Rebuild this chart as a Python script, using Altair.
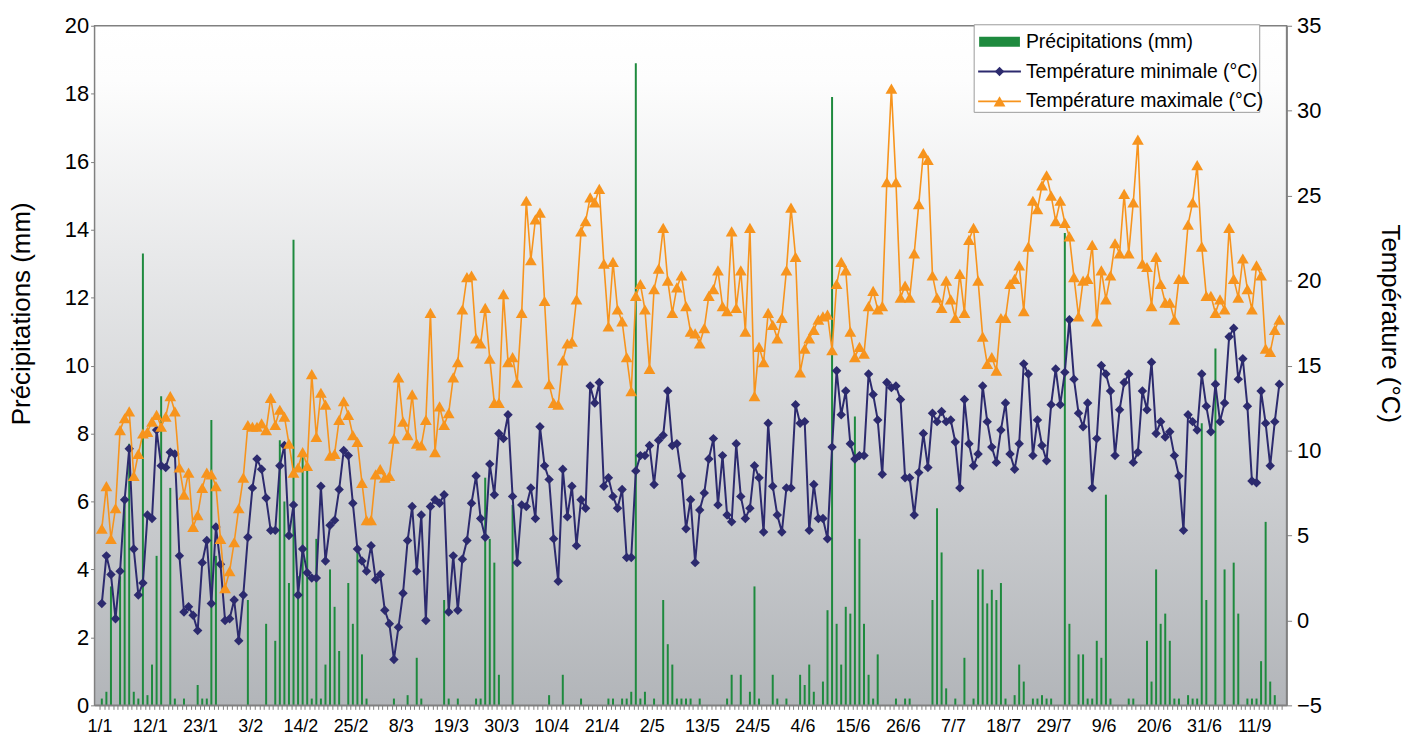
import altair as alt
import pandas as pd

# ---------------- data ----------------
date_labels = ["1/1", "12/1", "23/1", "3/2", "14/2", "25/2", "8/3", "19/3", "30/3",
               "10/4", "21/4", "2/5", "13/5", "24/5", "4/6", "15/6", "26/6", "7/7",
               "18/7", "29/7", "9/6", "20/6", "31/6", "11/9"]

precip = [
    0.2, 0.4, 3.5, 0, 3.8, 6.0, 7.7, 0.4, 0.2, 13.3, 0.3, 1.2, 4.4, 9.1, 0, 6.4, 0.2, 0, 0.2, 0,
    0, 0.6, 0.2, 0.2, 8.4, 4.4, 0, 0, 0, 0, 0, 0, 3.1,
    0, 0, 0, 2.4, 0, 1.9, 7.8, 6.0, 3.6, 13.7, 3.8, 7.3, 7.0, 0.2, 4.9, 0.2, 1.2, 4.0, 2.9, 1.6,
    0, 3.6, 2.4, 4.6, 1.5, 0.2, 0, 0, 0, 0, 0, 0.2, 0, 0, 0.3, 0, 1.4, 0.2, 0, 0, 0, 0, 3.1, 0.2, 0, 0.2,
    0, 0, 0, 0.2, 0.2, 6.7, 4.9, 4.2, 0.9, 0, 0, 5.9, 0, 0, 0, 0, 0, 0, 0, 0.3,
    0, 0, 0.9, 0, 0, 0, 0.2, 0, 0, 0, 0, 0, 0.2, 0.2, 0, 0.2, 0.2, 0.4, 18.9, 0.2,
    0.4, 0, 0.2, 0, 3.1, 1.8, 1.2, 0.2, 0.2, 0.2, 0.2, 0, 0.2, 0, 0, 0, 0, 0, 0.2, 0.9,
    0, 0.9, 0, 0.4, 3.5, 0.2, 0, 0, 0.9, 0.2, 0, 0.2, 0, 0, 0.9, 0.6, 1.2, 0.4, 0, 0.7,
    2.8, 17.9, 2.4, 1.2, 2.9, 2.7, 8.5, 4.9, 2.4, 0.9, 0.2, 1.5,
    0, 0, 0, 0.2, 0, 0.2, 0.2, 0, 0, 0, 0, 3.1, 5.8, 4.5, 0.5, 0, 0.2, 0, 1.4, 0,
    0.2, 4.0, 4.0, 3.0, 3.4, 3.1, 3.6, 0.2, 0, 0.3, 1.2, 0.7, 0, 0.2, 0.2, 0.3, 0.2, 0.2, 0, 0,
    13.9, 2.4, 0, 1.5, 1.5,
    0.2, 0.2, 1.9, 1.4, 6.2, 0.2, 0, 0, 0, 0.2, 0.2, 0, 0, 1.9, 0.7, 4.0, 2.4, 2.7, 1.9, 0.2,
    0.2, 0, 0.3, 0.2, 0.2, 8.3, 3.1, 0, 10.5, 0, 4.0, 0, 4.2, 2.7, 0, 0.2, 0.2, 0.2, 1.3, 5.4,
    0.7, 0.3, 0,
]

tmin = [
    1.0, 3.8, 2.7, 0.1, 2.9, 7.1, 10.1, 4.2, 1.5, 2.2, 6.2, 6.0, 11.2, 9.1, 9.0, 9.9, 9.8, 3.8, 0.5, 0.8,
    0.3, -0.6, 3.4, 4.7, 1.0, 5.5, 3.3, 0.0, 0.1, 1.2, -1.2, 1.5, 4.9,
    7.8, 9.5, 8.9, 7.2, 5.3, 5.3, 9.1, 10.3, 5.0, 6.8, 1.5, 4.2, 2.8, 2.5, 2.5, 7.9, 3.5, 5.6, 5.9, 7.7,
    10.0, 9.7, 6.9, 4.2, 3.5, 2.9, 4.4, 2.4, 2.7, 0.6, -0.2, -2.3, -0.4, 1.6, 4.7, 6.7, 2.9, 6.2, 0.0, 6.7,
    7.1, 6.9, 7.4, 0.5, 3.8, 0.6,
    3.6, 4.7, 6.9, 8.5, 6.0, 4.9, 9.2, 7.4, 11.0, 10.7, 12.1, 7.3, 3.4, 6.8, 6.7, 7.8, 6.0, 11.4, 9.1, 8.3,
    4.8, 2.3, 8.9, 6.1, 7.9, 4.4, 7.1, 6.6, 13.8, 12.8, 14.0, 7.9, 8.4, 7.3, 6.6, 7.7, 3.7, 3.7, 8.8, 9.7,
    9.7, 10.3, 8.0, 10.6, 10.9, 13.5, 10.3, 10.4, 8.5, 5.4, 7.1, 3.4, 6.5, 7.5, 9.5, 10.7, 6.8, 9.7, 6.2, 5.8,
    10.4, 7.3, 6.0, 6.6, 9.1, 8.4, 5.2, 11.6, 7.9, 6.2, 5.2, 7.8, 7.8, 12.7, 11.6, 11.7, 5.3, 8.0, 6.0, 6.0,
    4.8, 10.2, 14.7, 12.1, 13.5, 10.4, 9.5, 9.7, 9.7, 14.5, 13.3, 11.8,
    8.6, 14.0, 13.7, 13.8, 13.0, 8.4, 8.4, 6.2, 8.7, 11.0, 9.0, 12.2, 11.7, 12.3, 11.7, 11.8, 10.5, 7.8, 13.0, 10.4,
    9.1, 9.8, 13.8, 11.7, 10.2, 9.3, 11.2, 12.8, 9.8, 8.9, 10.4, 15.1, 14.5, 9.7, 11.8, 10.3, 9.4, 12.7, 14.8, 12.7,
    14.6, 17.7, 14.2, 12.2, 11.4,
    12.8, 7.8, 10.7, 15.0, 14.5, 13.5, 9.7, 12.4, 14.0, 14.5, 9.3, 9.9, 13.5, 12.4, 15.2, 11.0, 11.7, 10.8, 11.1, 9.7,
    8.5, 5.3, 12.1, 11.7, 11.2, 14.5, 12.6, 11.1, 13.9, 11.7, 12.8, 16.7, 17.2, 14.2, 15.4, 12.6, 8.2, 8.1, 13.5, 11.6,
    9.1, 11.7, 13.9,
]

tmax = [
    5.4, 7.9, 4.8, 6.6, 11.2, 11.9, 12.3, 8.5, 9.8, 11.0, 11.1, 11.7, 12.1, 11.4, 12.0, 13.2, 12.3, 9.0, 7.4, 8.7,
    5.5, 6.2, 7.8, 8.7, 8.6, 7.9, 4.8, 1.9, 2.9, 4.6, 6.6, 8.4, 11.5,
    11.4, 11.4, 11.6, 11.2, 13.1, 11.5, 12.4, 12.0, 10.4, 8.7, 9.0, 9.9, 9.1, 14.5, 10.8, 13.4, 12.7, 9.7, 9.8, 11.8,
    12.9, 12.1, 10.9, 10.5, 8.1, 5.9, 5.9, 8.6, 8.9, 8.4, 8.5, 10.7, 14.3, 11.7, 10.9, 13.3, 10.4, 10.3, 11.8, 18.1,
    9.9, 12.6, 11.5, 12.2, 14.3, 15.2,
    18.3, 20.2, 20.3, 16.6, 16.3, 18.4, 15.4, 12.8, 12.8, 19.2, 15.2, 15.5, 14.0, 18.1, 24.7, 21.2, 23.6, 24.0, 18.8, 13.9,
    12.8, 12.7, 15.3, 16.3, 16.4, 18.9, 22.9, 23.5, 24.9, 24.6, 25.4, 21.0, 17.3, 21.1, 18.3, 17.6, 15.5, 13.5, 19.1, 19.8,
    18.3, 14.8, 19.5, 20.7, 23.1, 20.0, 18.1, 19.6, 20.3, 18.5, 17.0, 16.9, 16.3, 17.2, 19.1, 19.5, 20.6, 18.5, 18.2, 22.9,
    18.4, 20.6, 17.0, 23.1, 13.2, 16.1, 15.2, 18.1, 17.4, 16.6, 17.8, 20.6, 24.3, 21.4, 14.6, 16.0, 16.6, 17.1, 17.7, 17.9,
    18.0, 15.9, 19.8, 21.1, 20.6, 17.0, 15.5, 16.1, 15.7, 18.5, 19.4, 18.3,
    18.5, 25.8, 31.3, 25.8, 19.0, 19.7, 19.0, 21.6, 24.5, 27.5, 27.1, 20.3, 19.0, 18.4, 20.0, 18.9, 17.8, 20.4, 18.1, 22.4,
    23.1, 20.0, 16.7, 15.1, 15.5, 14.7, 17.8, 17.8, 19.8, 20.1, 20.9, 18.2, 22.0, 24.7, 24.2, 25.6, 26.2, 25.0, 23.5, 24.7,
    23.4, 22.6, 20.2, 17.9, 20.0,
    20.1, 22.1, 17.6, 20.6, 18.9, 20.3, 22.2, 21.6, 25.1, 21.6, 24.6, 28.3, 21.0, 20.8, 18.5, 21.4, 19.8, 18.7, 18.7, 17.7,
    20.1, 20.1, 23.3, 24.6, 26.8, 22.0, 19.1, 19.1, 18.1, 18.9, 18.3, 23.1, 20.1, 19.0, 21.3, 19.5, 18.3, 20.9, 20.3, 16.0,
    15.8, 17.1, 17.7,
]

legend_labels = ["Précipitations (mm)", "Température minimale (°C)", "Température maximale (°C)"]

# ---------------- chart ----------------
n = len(precip)
df = pd.DataFrame({"day": list(range(n)), "precip": precip, "tmin": tmin, "tmax": tmax})
one = pd.DataFrame({"k": [0]})

W, H = 1198, 683
GREEN = "#1e8a3e"
NAVY = "#2c2a6e"
ORANGE = "#f7941d"
GREY = "#808080"
FONT = "Liberation Sans"

bounds = [i - 0.5 for i in range(n + 1)]
label_js = "[" + ",".join("'" + s + "'" for s in date_labels) + "]"
x_axis = alt.Axis(
    values=bounds,
    labelExpr="((datum.value + 0.5) % 11 == 0) ? " + label_js + "[(datum.value + 0.5) / 11] : ''",
    labelOffset=0, labelOverlap=False, labelFlush=False, labelFontSize=18, labelFont=FONT,
    labelColor="black", labelPadding=8, tickSize=4, tickColor=GREY, domainColor=GREY,
    domainWidth=1.5, grid=False, title=None,
)
x_enc = alt.X("day:Q", scale=alt.Scale(domain=[-0.5, n - 0.5], nice=False, zero=False), axis=x_axis)

bg = alt.Chart(one).mark_rect(
    fill=alt.Gradient(
        gradient="linear",
        stops=[alt.GradientStop(color="#ffffff", offset=0),
               alt.GradientStop(color="#fdfdfd", offset=0.08),
               alt.GradientStop(color="#b2b5b9", offset=1)],
        x1=0, x2=0, y1=0, y2=1,
    )
).encode(x=alt.value(0), x2=alt.value(W), y=alt.value(0), y2=alt.value(H))

bars = alt.Chart(df).mark_bar(size=2, color=GREEN).encode(
    x=x_enc,
    y=alt.Y("precip:Q", scale=alt.Scale(domain=[0, 20], nice=False),
            axis=alt.Axis(orient="left", values=list(range(0, 21, 2)), title="Précipitations (mm)",
                          titleFontSize=26, titleFont=FONT, titleFontWeight="normal", titleColor="black",
                          titleX=-73, titleY=289, titleAngle=270, titleBaseline="middle", titleAlign="center",
                          labelFontSize=22, labelFont=FONT, labelColor="black", tickSize=4, labelPadding=2,
                          tickColor=GREY, domainColor=GREY, domainWidth=1.5, grid=False)),
)

t_axis = alt.Axis(orient="right", values=list(range(-5, 36, 5)), title="Température (°C)",
                  titleFontSize=26, titleFont=FONT, titleFontWeight="normal", titleColor="black",
                  titleX=103, titleY=299, titleAngle=90, titleBaseline="middle", titleAlign="center",
                  labelFontSize=22, labelFont=FONT, labelColor="black", tickSize=5, labelPadding=5,
                  tickColor=GREY, domainColor=GREY, domainWidth=1.5, grid=False)
t_scale = alt.Scale(domain=[-5, 35], nice=False, zero=False)

tmin_line = alt.Chart(df).mark_line(
    color=NAVY, strokeWidth=2,
    point=alt.OverlayMarkDef(shape="diamond", size=90, filled=True, color=NAVY, opacity=1),
).encode(x=x_enc, y=alt.Y("tmin:Q", scale=t_scale, axis=t_axis))

tmax_line = alt.Chart(df).mark_line(
    color=ORANGE, strokeWidth=1.6,
    point=alt.OverlayMarkDef(shape="triangle-up", size=140, filled=True, color=ORANGE, opacity=1),
).encode(x=x_enc, y=alt.Y("tmax:Q", scale=t_scale, axis=t_axis))

temps = alt.layer(tmin_line, tmax_line)

frame = alt.Chart(one).mark_rect(filled=False, stroke=GREY, strokeWidth=1.5).encode(
    x=alt.value(0), x2=alt.value(W), y=alt.value(0), y2=alt.value(H))

# legend (decoration)
LX0, LX1, LY0, LY1 = 884, 1171, -1, 87
rows = [16, 46, 76]
leg_box = alt.Chart(one).mark_rect(fill="white", stroke="#9a9a9a", strokeWidth=1).encode(
    x=alt.value(LX0), x2=alt.value(LX1), y=alt.value(LY0), y2=alt.value(LY1))
leg_bar = alt.Chart(one).mark_rect(color=GREEN).encode(
    x=alt.value(889), x2=alt.value(930), y=alt.value(rows[0] - 5), y2=alt.value(rows[0] + 5))
leg_l1 = alt.Chart(one).mark_rule(color=NAVY, strokeWidth=2).encode(
    x=alt.value(888), x2=alt.value(931), y=alt.value(rows[1]))
leg_p1 = alt.Chart(one).mark_point(shape="diamond", size=90, filled=True, color=NAVY, opacity=1).encode(
    x=alt.value(909.5), y=alt.value(rows[1]))
leg_l2 = alt.Chart(one).mark_rule(color=ORANGE, strokeWidth=1.6).encode(
    x=alt.value(888), x2=alt.value(931), y=alt.value(rows[2]))
leg_p2 = alt.Chart(one).mark_point(shape="triangle-up", size=140, filled=True, color=ORANGE, opacity=1).encode(
    x=alt.value(909.5), y=alt.value(rows[2]))
leg_texts = [
    alt.Chart(one).mark_text(text=lab, align="left", baseline="middle", fontSize=19.5, font=FONT,
                             color="black").encode(x=alt.value(936), y=alt.value(r))
    for lab, r in zip(legend_labels, rows)
]

chart = alt.layer(
    bg, bars, temps, frame, leg_box, leg_bar, leg_l1, leg_p1, leg_l2, leg_p2, *leg_texts
).resolve_scale(y="independent").properties(
    width=W, height=H,
    padding={"left": 87, "top": 16, "right": 119, "bottom": 40},
    autosize=alt.AutoSizeParams(type="none"),
    background="white",
).configure_view(stroke=None)

chart.save("out.html", embed_options={"renderer": "svg", "actions": False})
